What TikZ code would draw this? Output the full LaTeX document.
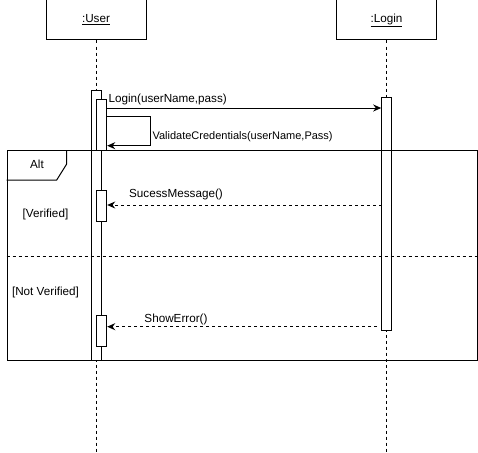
\documentclass[tikz,border=0pt]{standalone}
\usepackage{fontspec}
\setmainfont{Liberation Sans}
\usetikzlibrary{arrows.meta}
\begin{document}
\begin{tikzpicture}[x=1pt,y=-1pt,line width=1pt,
  font=\fontsize{11.7}{13}\selectfont,
  actor/.style={draw,fill=white,minimum width=100pt,minimum height=40pt,inner sep=0pt},
  lifeline/.style={dashed,dash pattern=on 3pt off 3pt},
  act/.style={draw,fill=white,minimum width=10pt,inner sep=0pt,anchor=north},
  msg/.style={-{Stealth[length=8pt,width=7pt]}},
  ret/.style={dashed,dash pattern=on 3pt off 3pt,-{Stealth[length=8pt,width=7pt]}},
  lbl/.style={inner sep=0pt}]
\useasboundingbox (0,0) rectangle (478,452);
% actors
\node[actor] (user) at (96,20) {\underline{:User}};
\node[actor] (login) at (386.5,20) {\underline{:Login}};
% lifelines
\coordinate (userEnd) at (96.5,452);
\coordinate (loginEnd) at (386.5,452);
\draw[lifeline] (user.south -| userEnd) -- (userEnd);
\draw[lifeline] (login.south) -- (loginEnd);
% activations
\node[act,minimum width=9.6pt,minimum height=270pt] (uAct) at (96.5,90) {};
\node[act,minimum height=51.3pt] (uIn) at (101.7,98.7) {};
\node[act,minimum height=233.3pt] (lAct) at (386.7,96.7) {};
\node[act,minimum height=30.7pt] (sAct) at (101.7,190) {};
\node[act,minimum height=30.7pt] (eAct) at (101.7,315) {};
% login message
\coordinate (m1) at (106.7,108);
\draw[msg] (m1) -- (lAct.west |- m1);
\node[lbl,anchor=west] (m1l) at (108,99.5) {Login(userName,pass)};
% self message
\coordinate (s1) at (106.7,116.7);
\coordinate (s2) at (150.5,145.7);
\draw[msg] (s1) -| (s2) -- (uIn.east |- s2);
\node[lbl,anchor=west,font=\fontsize{11}{13}\selectfont] (s1l) at (152,137) {ValidateCredentials(userName,Pass)};
% return messages
\coordinate (r1) at (381.7,205);
\draw[ret] (r1) -- (sAct.east |- r1);
\node[lbl] (r1l) at (176,194.5) {SucessMessage()};
\coordinate (r2) at (377,326.7);
\draw[ret] (r2) -- (eAct.east |- r2);
\node[lbl] (r2l) at (176,319) {ShowError()};
% alt frame
\node[draw,minimum width=470pt,minimum height=210pt,inner sep=0pt,anchor=north west] (frame) at (6.7,150) {};
\coordinate (t1) at (6.7,180);
\coordinate (t2) at (56.7,180);
\coordinate (t3) at (66.7,164);
\coordinate (t4) at (66.7,150);
\draw (t1) -- (t2) -- (t3) -- (t4);
\node[lbl] (altl) at (37,164) {Alt};
\coordinate (sepL) at (6.7,256.5);
\draw[lifeline] (sepL) -- (frame.east |- sepL);
\node[lbl] (g1) at (45.5,214) {[Verified]};
\node[lbl] (g2) at (45.5,292.5) {[Not Verified]};
\end{tikzpicture}
\end{document}
